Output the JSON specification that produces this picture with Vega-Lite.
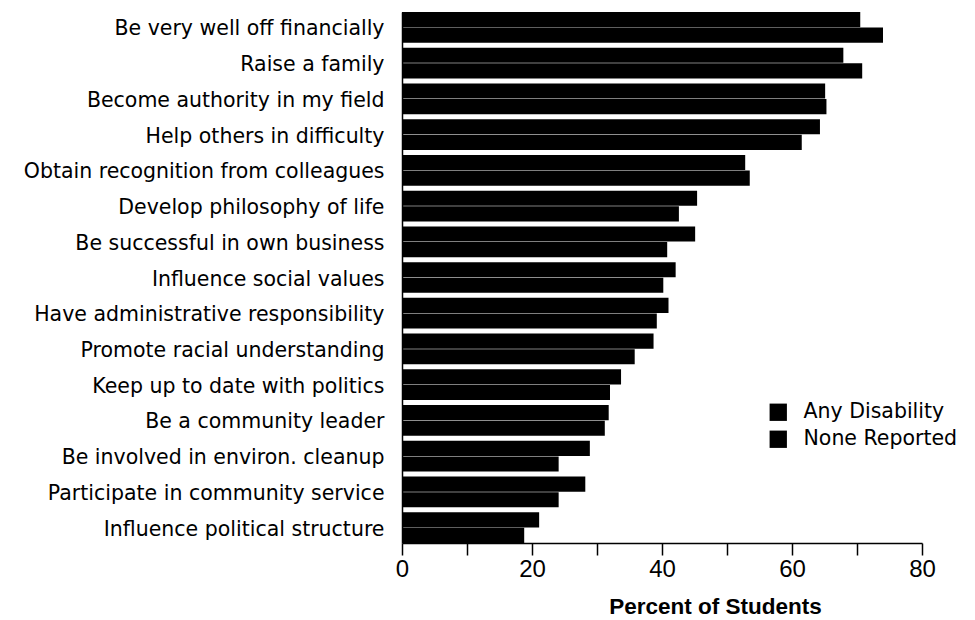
{
  "$schema": "https://vega.github.io/schema/vega-lite/v6.json",
  "autosize": "none",
  "width": 520,
  "height": 531,
  "padding": {"left": 402, "top": 12, "right": 53, "bottom": 77},
  "background": "white",
  "data": {
    "values": [
      {"goal": "Be very well off financially", "group": "Any Disability", "pct": 70.5},
      {"goal": "Be very well off financially", "group": "None Reported", "pct": 74.0},
      {"goal": "Raise a family", "group": "Any Disability", "pct": 67.9},
      {"goal": "Raise a family", "group": "None Reported", "pct": 70.8},
      {"goal": "Become authority in my field", "group": "Any Disability", "pct": 65.1},
      {"goal": "Become authority in my field", "group": "None Reported", "pct": 65.3},
      {"goal": "Help others in difficulty", "group": "Any Disability", "pct": 64.3},
      {"goal": "Help others in difficulty", "group": "None Reported", "pct": 61.5},
      {"goal": "Obtain recognition from colleagues", "group": "Any Disability", "pct": 52.8},
      {"goal": "Obtain recognition from colleagues", "group": "None Reported", "pct": 53.5},
      {"goal": "Develop philosophy of life", "group": "Any Disability", "pct": 45.4},
      {"goal": "Develop philosophy of life", "group": "None Reported", "pct": 42.6},
      {"goal": "Be successful in own business", "group": "Any Disability", "pct": 45.1},
      {"goal": "Be successful in own business", "group": "None Reported", "pct": 40.8},
      {"goal": "Influence social values", "group": "Any Disability", "pct": 42.1},
      {"goal": "Influence social values", "group": "None Reported", "pct": 40.2},
      {"goal": "Have administrative responsibility", "group": "Any Disability", "pct": 41.0},
      {"goal": "Have administrative responsibility", "group": "None Reported", "pct": 39.2},
      {"goal": "Promote racial understanding", "group": "Any Disability", "pct": 38.7},
      {"goal": "Promote racial understanding", "group": "None Reported", "pct": 35.8},
      {"goal": "Keep up to date with politics", "group": "Any Disability", "pct": 33.7},
      {"goal": "Keep up to date with politics", "group": "None Reported", "pct": 32.0},
      {"goal": "Be a community leader", "group": "Any Disability", "pct": 31.8},
      {"goal": "Be a community leader", "group": "None Reported", "pct": 31.2},
      {"goal": "Be involved in environ. cleanup", "group": "Any Disability", "pct": 28.9},
      {"goal": "Be involved in environ. cleanup", "group": "None Reported", "pct": 24.1},
      {"goal": "Participate in community service", "group": "Any Disability", "pct": 28.2},
      {"goal": "Participate in community service", "group": "None Reported", "pct": 24.1},
      {"goal": "Influence political structure", "group": "Any Disability", "pct": 21.1},
      {"goal": "Influence political structure", "group": "None Reported", "pct": 18.8}
    ]
  },
  "mark": {"type": "bar", "color": "#000000"},
  "encoding": {
    "y": {
      "field": "goal",
      "type": "nominal",
      "sort": null,
      "scale": {"paddingInner": 0.14, "paddingOuter": 0},
      "axis": {
        "title": null,
        "ticks": false,
        "domain": true,
        "domainColor": "#000000",
        "domainWidth": 1.5,
        "labelFont": "DejaVu Sans",
        "labelFontSize": 20.5,
        "labelColor": "#000000",
        "labelPadding": 18,
        "labelLimit": 500,
        "labelBaseline": "middle",
        "labelOffset": 2
      }
    },
    "yOffset": {
      "field": "group",
      "type": "nominal",
      "sort": ["Any Disability", "None Reported"],
      "scale": {"paddingInner": 0.03}
    },
    "x": {
      "field": "pct",
      "type": "quantitative",
      "scale": {"domain": [0, 80], "nice": false},
      "axis": {
        "title": "Percent of Students",
        "values": [0, 10, 20, 30, 40, 50, 60, 70, 80],
        "labelExpr": "datum.value % 20 == 0 ? datum.label : ''",
        "labelFlush": false,
        "grid": false,
        "domainColor": "#000000",
        "domainWidth": 1.5,
        "tickColor": "#000000",
        "tickWidth": 1.5,
        "tickSize": 12,
        "labelFont": "Liberation Sans",
        "labelFontSize": 24,
        "labelColor": "#000000",
        "labelPadding": 2,
        "titleFont": "Liberation Sans",
        "titleFontSize": 22.5,
        "titleFontWeight": "bold",
        "titleColor": "#000000",
        "titleAlign": "center",
        "titleX": 313,
        "titlePadding": 14
      }
    },
    "color": {
      "field": "group",
      "type": "nominal",
      "scale": {"domain": ["Any Disability", "None Reported"], "range": ["#000000", "#000000"]},
      "legend": {
        "title": null,
        "orient": "none",
        "legendX": 366,
        "legendY": 390,
        "symbolType": "square",
        "symbolSize": 300,
        "symbolStrokeWidth": 0,
        "labelFont": "DejaVu Sans",
        "labelFontSize": 20.5,
        "labelColor": "#000000",
        "labelOffset": 15,
        "rowPadding": 6,
        "padding": 0
      }
    }
  },
  "config": {"view": {"stroke": null}}
}
